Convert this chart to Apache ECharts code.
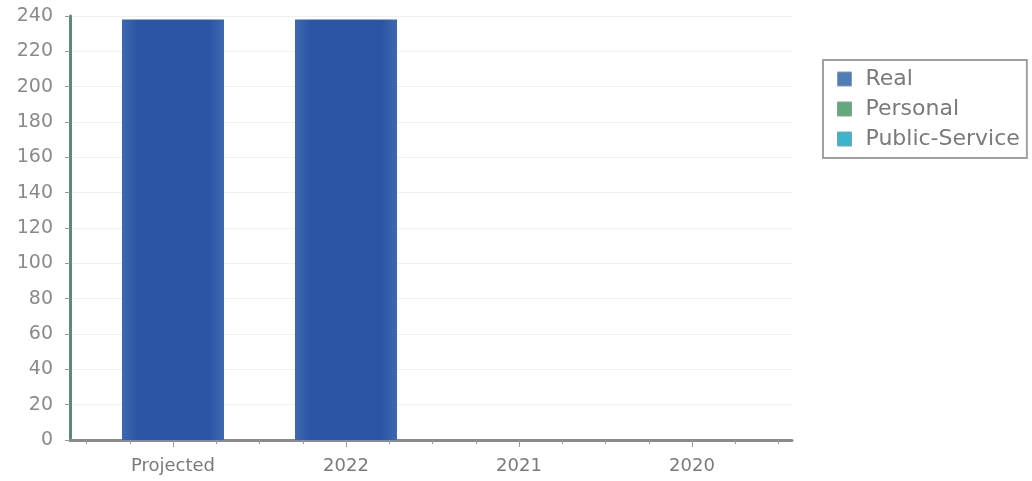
<!DOCTYPE html>
<html>
<head>
<meta charset="utf-8">
<script src="https://cdn.jsdelivr.net/npm/echarts@6/dist/echarts.min.js"></script>
<style>html,body{margin:0;padding:0;background:#fff;}#c{width:1032px;height:481px;}</style>
</head>
<body>
<div id="c"></div>
<script>
const categories = ['Projected', '2022', '2021', '2020'];
const realValues = [238, 238, 0, 0];
const personalValues = [0, 0, 0, 0];
const publicServiceValues = [0, 0, 0, 0];
const yTicks = { min: 0, max: 240, interval: 20 };

const chart = echarts.init(document.getElementById('c'), null, { renderer: 'canvas' });
const font = 'DejaVu Sans';
const barGrad = new echarts.graphic.LinearGradient(0, 0, 1, 0, [
  { offset: 0, color: '#3d68b0' },
  { offset: 0.15, color: '#2b56a6' },
  { offset: 0.85, color: '#2b56a6' },
  { offset: 1, color: '#3d68b0' }
]);
chart.setOption({
  animation: false,
  backgroundColor: '#fff',
  grid: [
    { left: 70, right: 240, top: 16, bottom: 41 },
    { left: 86.5, right: 253.5, top: 16, bottom: 41 }
  ],
  legend: {
    orient: 'vertical',
    left: 823, top: 60,
    padding: [8, 7, 8, 14],
    backgroundColor: '#fff',
    borderColor: '#a0a0a0',
    borderWidth: 2,
    itemWidth: 14, itemHeight: 14,
    itemGap: 8,
    icon: 'rect',
    textStyle: { fontFamily: font, fontSize: 22, color: '#7a7a7a', padding: [0, 0, 0, 9] },
    data: [
      { name: 'Real', itemStyle: { color: '#4f7db5', borderColor: '#8a9ab0', borderWidth: 1 } },
      { name: 'Personal', itemStyle: { color: '#62a97c', borderColor: '#8aa090', borderWidth: 1 } },
      { name: 'Public-Service', itemStyle: { color: '#3bb5cc', borderColor: '#80a0a8', borderWidth: 1 } }
    ]
  },
  xAxis: [
    { type: 'value', gridIndex: 0, min: 0, max: 1, position: 'bottom',
      axisLine: { show: true, lineStyle: { color: '#8a8a8a', width: 3 } },
      axisTick: { show: false }, axisLabel: { show: false }, splitLine: { show: false } },
    { type: 'category', gridIndex: 1, data: categories, position: 'bottom',
      axisLine: { show: false },
      axisTick: { show: true, alignWithLabel: true, length: 7, lineStyle: { color: '#999', width: 1 } },
      axisLabel: { fontFamily: font, fontSize: 18, color: '#7a7a7a', margin: 17 },
      splitLine: { show: false } },
    { type: 'value', gridIndex: 1, min: 0, max: 16, interval: 1, position: 'bottom',
      axisLine: { show: false },
      axisTick: { show: true, length: 4, lineStyle: { color: '#999', width: 1 } },
      axisLabel: { show: false }, splitLine: { show: false } }
  ],
  yAxis: [
    { type: 'value', gridIndex: 0, min: yTicks.min, max: yTicks.max, interval: yTicks.interval,
      axisLine: { show: true, lineStyle: { color: '#5e8a7e', width: 3 } },
      axisTick: { show: true, length: 5, lineStyle: { color: '#999' } },
      axisLabel: { fontFamily: font, fontSize: 19, color: '#8a8a8a', margin: 17 },
      splitLine: { show: true, lineStyle: { color: '#f0f0f0', width: 1 } } },
    { type: 'value', gridIndex: 1, min: yTicks.min, max: yTicks.max, show: false }
  ],
  series: [
    { name: 'Real', type: 'bar', xAxisIndex: 1, yAxisIndex: 1, data: realValues,
      barWidth: 102, barGap: '-100%',
      itemStyle: { color: barGrad } },
    { name: 'Personal', type: 'bar', xAxisIndex: 1, yAxisIndex: 1, data: personalValues,
      barWidth: 102, barGap: '-100%', itemStyle: { color: '#62a97c' } },
    { name: 'Public-Service', type: 'bar', xAxisIndex: 1, yAxisIndex: 1, data: publicServiceValues,
      barWidth: 102, barGap: '-100%', itemStyle: { color: '#3bb5cc' } }
  ]
});
</script>
</body>
</html>
